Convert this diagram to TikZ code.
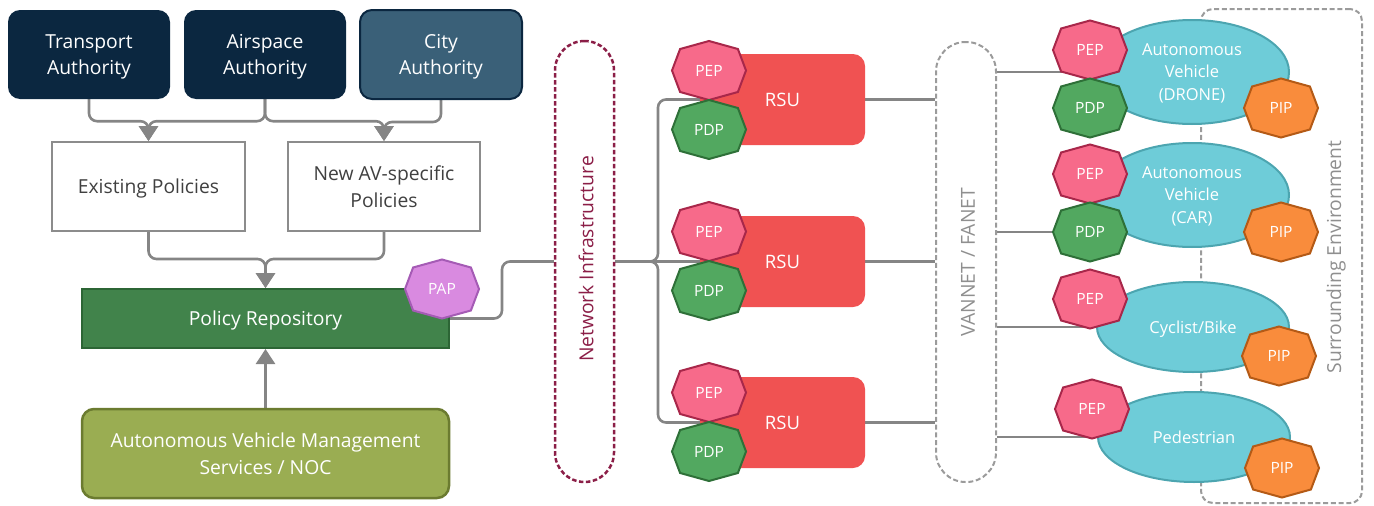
\documentclass[tikz,border=0pt]{standalone}
\usepackage{fontspec}
\setmainfont{Open Sans}
\usetikzlibrary{shapes.geometric,arrows.meta,calc}
\pgfdeclarelayer{bg}
\pgfsetlayers{bg,main}
\definecolor{navy}{HTML}{0B2740}
\definecolor{cityfill}{HTML}{3A6078}
\definecolor{linegray}{HTML}{858585}
\definecolor{boxgray}{HTML}{8C8C8C}
\definecolor{textgray}{HTML}{404040}
\definecolor{repofill}{HTML}{41834B}
\definecolor{repodraw}{HTML}{2C6535}
\definecolor{avmsfill}{HTML}{9AAD52}
\definecolor{avmsdraw}{HTML}{6B7B30}
\definecolor{maroon}{HTML}{8B1E47}
\definecolor{rsufill}{HTML}{F05252}
\definecolor{pepfill}{HTML}{F76A8A}
\definecolor{pepdraw}{HTML}{A8274A}
\definecolor{pdpfill}{HTML}{52A860}
\definecolor{pdpdraw}{HTML}{2E7038}
\definecolor{pipfill}{HTML}{F98C3C}
\definecolor{pipdraw}{HTML}{B45A16}
\definecolor{papfill}{HTML}{D98AE0}
\definecolor{papdraw}{HTML}{A55BB5}
\definecolor{ellfill}{HTML}{6ECCD8}
\definecolor{elldraw}{HTML}{4CA5B0}
\definecolor{dashgray}{HTML}{9B9B9B}
\definecolor{labgray}{HTML}{8F8F8F}
\newcommand\fA{\fontsize{19.3}{26.5}\selectfont}
\newcommand\fB{\fontsize{15.5}{18}\selectfont}
\newcommand\fC{\fontsize{16.5}{22.5}\selectfont}
\newcommand\fR{\fontsize{18.5}{22}\selectfont}
\tikzset{
  conn/.style={draw=linegray, line width=2.6pt},
  arr/.style={conn, -{Triangle[width=19pt,length=15pt]}},
  authbox/.style={rectangle, rounded corners=12pt, fill=navy, text=white,
    minimum width=162pt, minimum height=89pt, align=center, font=\fA, inner sep=0pt, text depth=0pt},
  polbox/.style={rectangle, draw=boxgray, line width=2pt, fill=white, text=textgray,
    minimum width=193pt, minimum height=89pt, align=center, font=\fA, inner sep=0pt, text depth=0pt},
  repobox/.style={rectangle, draw=repodraw, line width=2pt, fill=repofill, text=white,
    minimum width=367pt, minimum height=59pt, font=\fA, inner sep=0pt, text depth=0pt},
  avmsbox/.style={rectangle, rounded corners=12pt, draw=avmsdraw, line width=2.5pt, fill=avmsfill,
    text=white, minimum width=367pt, minimum height=89pt, align=center, font=\fA, inner sep=0pt, text depth=0pt},
  capsule/.style={rectangle, rounded corners=29.5pt, line width=2.5pt, minimum width=59pt,
    minimum height=441pt, inner sep=0pt},
  rsubox/.style={rectangle, rounded corners=12pt, fill=rsufill, text=white,
    minimum width=165pt, minimum height=91pt, font=\fR, inner sep=0pt},
  ell/.style={ellipse, fill=ellfill, draw=elldraw, line width=2pt, text=white, align=center,
    font=\fC, inner sep=0pt, text depth=0pt},
  vlabel/.style={rotate=90, font=\fA, inner sep=0pt},
  octb/.style={line width=2pt, line join=miter},
  octt/.style={text=white, font=\fB, inner sep=0pt},
  pepc/.style={fill=pepfill, draw=pepdraw},
  pdpc/.style={fill=pdpfill, draw=pdpdraw},
  pipc/.style={fill=pipfill, draw=pipdraw},
  papc/.style={fill=papfill, draw=papdraw},
}
\newcommand\octa[4]{%
  \begin{scope}[shift={(#2)}]
    \path[octb,#3] (0,-29.5) -- (28.9,-21.5) -- (37,0) -- (28.9,21.5) -- (0,29.5)
      -- (-28.9,21.5) -- (-37,0) -- (-28.9,-21.5) -- cycle;
    \node[octt] (#1) at (0,0) {#4};
  \end{scope}}
\begin{document}
\begin{tikzpicture}[x=1pt, y=-1pt]
\useasboundingbox (0,0) rectangle (1374,506);
% left part
\node[authbox] (transport) at (89,54.5) {Transport\\Authority};
\node[authbox] (airspace) at (265,54.5) {Airspace\\Authority};
\node[authbox, fill=cityfill, draw=navy, line width=2pt] (city) at (441,54.5) {City\\Authority};
\node[polbox] (existing) at (148.5,186.5) {Existing Policies};
\node[polbox, minimum width=192pt] (newav) at (384,186.5) {New AV-specific\\Policies};
\node[repobox] (repo) at (265.5,318.5) {Policy Repository};
\node[avmsbox] (avms) at (265.5,453.5) {Autonomous Vehicle Management\\Services / NOC};
\octa{pap}{442,289}{papc}{PAP}
% network
\node[capsule, draw=maroon, dash pattern=on 4.5pt off 2.5pt] (netinfra) at (584.5,261.5) {};
\node[vlabel, text=maroon] (netlabel) at (586,259) {Network Infrastructure};
\node[rsubox] (rsu1) at (782.5,99.5) {RSU};
\node[rsubox] (rsu2) at (782.5,261.5) {RSU};
\node[rsubox] (rsu3) at (782.5,422.5) {RSU};
\octa{pepa}{709,70.5}{pepc}{PEP}
\octa{pdpa}{709,129.5}{pdpc}{PDP}
\octa{pepb}{709,231.5}{pepc}{PEP}
\octa{pdpb}{709,290.5}{pdpc}{PDP}
\octa{pepc3}{709,392.5}{pepc}{PEP}
\octa{pdpc3}{709,451.5}{pdpc}{PDP}
\node[capsule, draw=dashgray, minimum width=60pt, minimum height=440pt, line width=2pt,
  dash pattern=on 5pt off 2.7pt] (vannet) at (966,262) {};
\node[vlabel, text=labgray] (vanlabel) at (968,262) {VANNET / FANET};
% right part
\node[rectangle, draw=dashgray, line width=2pt, dash pattern=on 5pt off 2.7pt,
  rounded corners=12pt, minimum width=161pt, minimum height=494pt, inner sep=0pt] (env) at (1281.5,256) {};
\node[vlabel, text=labgray] (envlabel) at (1336,257) {Surrounding Environment};
\node[ell, minimum width=194pt, minimum height=104pt] (drone) at (1192,72) {Autonomous\\Vehicle\\(DRONE)};
\node[ell, minimum width=194pt, minimum height=104pt] (car) at (1192,195) {Autonomous\\Vehicle\\(CAR)};
\node[ell, minimum width=192pt, minimum height=90pt] (bike) at (1193,327) {Cyclist/Bike};
\node[ell, minimum width=192pt, minimum height=90pt] (ped) at (1194,437) {Pedestrian};
\octa{pep1}{1090,50}{pepc}{PEP}
\octa{pdp1}{1090,108}{pdpc}{PDP}
\octa{pip1}{1281,108}{pipc}{PIP}
\octa{pep2}{1090,174}{pepc}{PEP}
\octa{pdp2}{1090,232}{pdpc}{PDP}
\octa{pip2}{1281,232}{pipc}{PIP}
\octa{pep3}{1090,299}{pepc}{PEP}
\octa{pip3}{1279,356}{pipc}{PIP}
\octa{pep4}{1092,409}{pepc}{PEP}
\octa{pip4}{1282,468}{pipc}{PIP}
\coordinate (bx) at (658,0);
\coordinate (px) at (502,0);
\begin{pgfonlayer}{bg}
\draw[arr, rounded corners=8pt] (transport.south) -- ++(0,22) -| (existing.north);
\draw[arr, rounded corners=8pt] (airspace.south) -- ++(0,22) -| (existing.north);
\draw[arr, rounded corners=8pt] (airspace.south) -- ++(0,22) -| (newav.north);
\draw[arr, rounded corners=8pt] (city.south) -- ++(0,22) -| (newav.north);
\draw[arr, rounded corners=8pt] (existing.south) -- ++(0,27) -| (repo.north);
\draw[arr, rounded corners=8pt] (newav.south) -- ++(0,27) -| (repo.north);
\draw[arr] (avms.north) -- (repo.south);
\draw[conn, rounded corners=8pt] (repo.east) -| (px |- netinfra.west) -- (netinfra.west);
\draw[conn, rounded corners=8pt] (netinfra.east) -| (bx |- rsu1) -- (rsu1.west);
\draw[conn] (netinfra.east) -- (rsu2.west);
\draw[conn, rounded corners=8pt] (netinfra.east) -| (bx |- rsu3) -- (rsu3.west);
\draw[conn] (rsu1.east) -- (rsu1.east -| vannet.west);
\draw[conn] (rsu2.east) -- (rsu2.east -| vannet.west);
\draw[conn] (rsu3.east) -- (rsu3.east -| vannet.west);
\draw[conn] (vannet.east |- drone) -- (drone);
\draw[conn] (vannet.east |- pdp2) -- (pdp2);
\draw[conn] (vannet.east |- bike) -- (bike);
\draw[conn] (vannet.east |- ped) -- (ped);
\end{pgfonlayer}
\end{tikzpicture}
\end{document}
